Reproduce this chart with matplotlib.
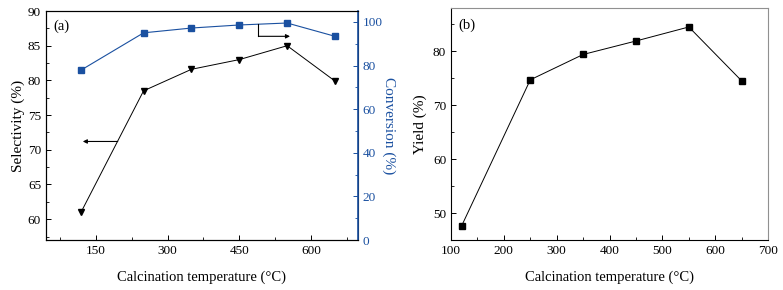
import matplotlib
matplotlib.use("Agg")
import matplotlib.pyplot as plt
from matplotlib.ticker import MultipleLocator

plt.rcParams['font.family'] = ['Liberation Serif', 'DejaVu Serif']
plt.rcParams['xtick.direction'] = 'in'
plt.rcParams['ytick.direction'] = 'in'

# data
temps = [120, 250, 350, 450, 550, 650]
selectivity = [61.1, 78.5, 81.6, 83.0, 85.0, 79.9]
conversion = [78.0, 95.0, 97.2, 98.6, 99.5, 93.4]
yield_pct = [47.6, 74.7, 79.4, 81.9, 84.5, 74.5]

blue = '#1a50a0'
tick_fs = 9.5
xlabel_fs = 10.5
ylabel_fs = 11

fig = plt.figure(figsize=(7.83, 2.9), dpi=100)

# ---- panel (a): selectivity + conversion ----
ax1 = fig.add_axes([0.0587, 0.1724, 0.3985, 0.7896])
ax1.plot(temps, selectivity, color='black', lw=0.7, marker='v', ms=4.8,
         markerfacecolor='black', markeredgecolor='black')
ax1.set_xlim(46, 698)
ax1.set_ylim(57, 90)
ax1.xaxis.set_major_locator(MultipleLocator(150))
ax1.xaxis.set_minor_locator(MultipleLocator(75))
ax1.yaxis.set_major_locator(MultipleLocator(5))
ax1.yaxis.set_minor_locator(MultipleLocator(2.5))
ax1.tick_params(which='both', labelsize=tick_fs, right=False, top=False)
ax1.tick_params(which='major', length=3.5, width=0.7)
ax1.tick_params(which='minor', length=2, width=0.6)
ax1.set_xlabel('Calcination temperature (°C)', fontsize=xlabel_fs, labelpad=10)
ax1.set_ylabel('Selectivity (%)', fontsize=ylabel_fs, labelpad=2)
ax1.text(62, 87.3, '(a)', fontsize=xlabel_fs)
ax1.annotate('', xy=(123, 71.2), xytext=(196, 71.2),
             arrowprops=dict(arrowstyle='-|>', color='black', lw=0.8,
                             mutation_scale=6, shrinkA=0, shrinkB=0))

ax2 = ax1.twinx()
ax2.plot(temps, conversion, color=blue, lw=0.8, marker='s', ms=4,
         markerfacecolor=blue, markeredgecolor=blue)
ax2.set_ylim(0, 105)
ax2.yaxis.set_major_locator(MultipleLocator(20))
ax2.yaxis.set_minor_locator(MultipleLocator(10))
ax2.tick_params(axis='y', which='both', colors=blue, labelsize=tick_fs)
ax2.tick_params(which='major', length=3.5, width=0.7)
ax2.tick_params(which='minor', length=2, width=0.6)
ax2.spines['right'].set_color(blue)
ax2.spines['right'].set_linewidth(1.2)
ax2.set_ylabel('Conversion (%)', fontsize=ylabel_fs, color=blue,
               rotation=270, labelpad=9)
# elbow arrow pointing to the conversion axis
ax2.plot([490, 490], [99.1, 93.4], color='black', lw=0.8)
ax2.annotate('', xy=(556, 93.4), xytext=(490, 93.4),
             arrowprops=dict(arrowstyle='-|>', color='black', lw=0.8,
                             mutation_scale=6, shrinkA=0, shrinkB=0))

# ---- panel (b): yield ----
ax3 = fig.add_axes([0.576, 0.1724, 0.405, 0.7997])
ax3.plot(temps, yield_pct, color='black', lw=0.7, marker='s', ms=4.6,
         markerfacecolor='black', markeredgecolor='black')
ax3.set_xlim(100, 700)
ax3.set_ylim(45, 88)
ax3.xaxis.set_major_locator(MultipleLocator(100))
ax3.xaxis.set_minor_locator(MultipleLocator(50))
ax3.yaxis.set_major_locator(MultipleLocator(10))
ax3.yaxis.set_minor_locator(MultipleLocator(5))
ax3.tick_params(which='both', labelsize=tick_fs, right=False, top=False)
ax3.tick_params(which='major', length=3.5, width=0.7)
ax3.tick_params(which='minor', length=2, width=0.6)
for side in ['top', 'right']:
    ax3.spines[side].set_color('#909090')
ax3.set_xlabel('Calcination temperature (°C)', fontsize=xlabel_fs, labelpad=10)
ax3.set_ylabel('Yield (%)', fontsize=ylabel_fs, labelpad=4)
ax3.text(113, 84.2, '(b)', fontsize=xlabel_fs)

fig.savefig('out.png', dpi=100)
